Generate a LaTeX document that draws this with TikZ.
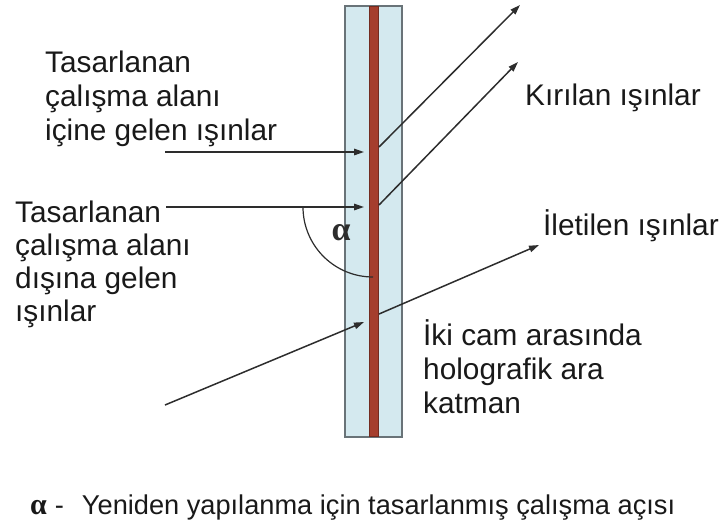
\documentclass[tikz,border=0pt]{standalone}
\usepackage{fontspec}
\setmainfont{Liberation Sans}
\newfontfamily\serifalpha{Liberation Serif}
\usetikzlibrary{arrows.meta}
\definecolor{glassfill}{RGB}{212,233,239}
\definecolor{glassedge}{RGB}{105,115,120}
\definecolor{holored}{RGB}{165,62,45}
\definecolor{rayc}{RGB}{45,45,45}
\definecolor{txt}{RGB}{25,25,25}
\tikzset{
  ray/.style={draw=rayc, line width=1.5pt, -{Triangle[length=10pt,width=6.5pt]}},
  lab/.style={anchor=base west, inner sep=0pt, text=txt, font=\fontsize{29.8}{34}\selectfont},
  foot/.style={anchor=base west, inner sep=0pt, text=txt, font=\fontsize{27.2}{32}\selectfont},
  glassbox/.style={draw=glassedge, line width=2pt, fill=glassfill, inner sep=0pt},
  holobox/.style={fill=holored, draw=holored!70!black, line width=0.6pt, inner sep=0pt},
}
\begin{document}
\begin{tikzpicture}[x=1pt,y=-1pt]
\useasboundingbox (0,0) rectangle (727,528);
% glass pane
\node[glassbox, minimum width=57pt, minimum height=431pt] (glass) at (373.5,221.5) {};
\node[holobox, minimum width=9pt, minimum height=430pt] (holo) at (373.5,221.5) {};
% coordinates of rays
\coordinate (a1) at (165,152);
\coordinate (a1e) at (364,152);
\coordinate (b1) at (379,147);
\coordinate (b1e) at (520,5);
\coordinate (a2) at (166,207);
\coordinate (a2e) at (364,207);
\coordinate (b2) at (379,205);
\coordinate (b2e) at (518,62);
\coordinate (a3) at (165,405);
\coordinate (a3e) at (364,322);
\coordinate (b3) at (379,314);
\coordinate (b3e) at (539,245);
\coordinate (arcs) at (303,207);
% rays
\draw[ray] (a1) -- (a1e);
\draw[ray] (b1) -- (b1e);
\draw[ray] (a2) -- (a2e);
\draw[ray] (b2) -- (b2e);
\draw[ray] (a3) -- (a3e);
\draw[ray] (b3) -- (b3e);
% angle arc
\draw[rayc, line width=1.2pt] (arcs) arc[start angle=180, end angle=90, radius=70];
\node[inner sep=0pt, text=rayc, font=\serifalpha\bfseries\fontsize{34}{34}\selectfont] (alpha) at (341,233) {α};
% labels
\node[lab] (l1a) at (45,72) {Tasarlanan};
\node[lab] (l1b) at (45,106) {çalışma alanı};
\node[lab] (l1c) at (45,140) {içine gelen ışınlar};
\node[lab] (l2a) at (15,222) {Tasarlanan};
\node[lab] (l2b) at (15,255) {çalışma alanı};
\node[lab] (l2c) at (15,288) {dışına gelen};
\node[lab] (l2d) at (15,321) {ışınlar};
\node[lab] (kir) at (525,105) {Kırılan ışınlar};
\node[lab] (ilet) at (543,235) {İletilen ışınlar};
\node[lab] (iki1) at (423,345) {İki cam arasında};
\node[lab] (iki2) at (423,379) {holografik ara};
\node[lab] (iki3) at (423,413) {katman};
% footnote
\node[foot] (leg) at (30,514) {{\serifalpha\bfseries\fontsize{30}{30}\selectfont α}\hspace{8pt}-\hspace{18pt}Yeniden yapılanma için tasarlanmış çalışma açısı};
\end{tikzpicture}
\end{document}
